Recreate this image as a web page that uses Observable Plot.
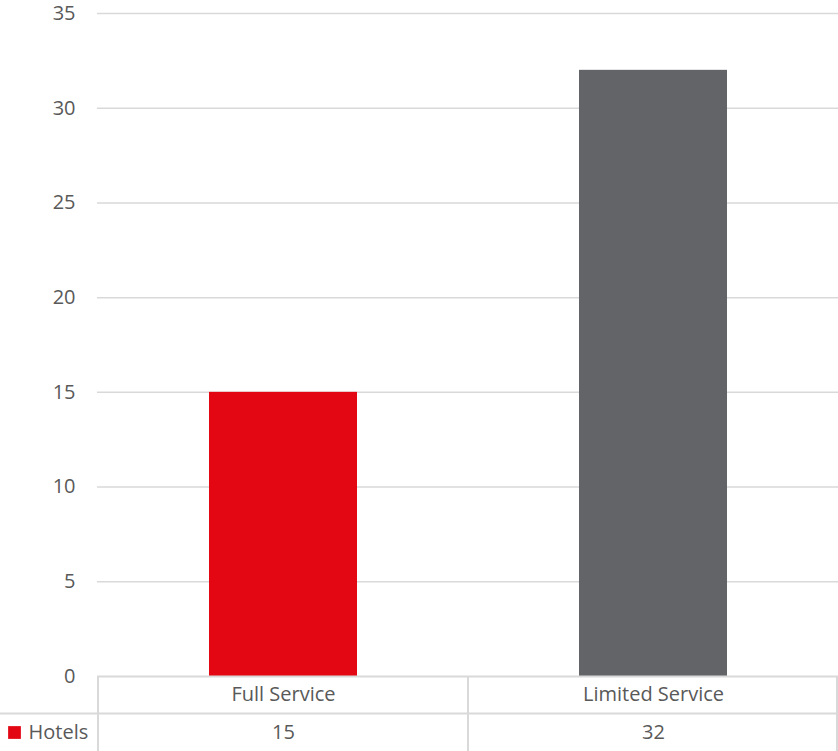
<!DOCTYPE html>
<html>
<head>
<meta charset="utf-8">
<script src="https://cdn.jsdelivr.net/npm/d3@7"></script>
<script src="https://cdn.jsdelivr.net/npm/@observablehq/plot@0.6"></script>
<style>
  html, body { margin: 0; padding: 0; background: #fff; }
  #chart svg { display: block; }
</style>
</head>
<body>
<div id="chart"></div>
<script>
const categories = ["Full Service", "Limited Service"];
const values = [15, 32];
const barColors = ["#E30613", "#636467"];
const seriesName = "Hotels";
const yTicks = [0, 5, 10, 15, 20, 25, 30, 35];

const data = categories.map((c, i) => ({category: c, value: values[i]}));
const gridColor = "#d9d9d9";
const textColor = "#595959";

const plot = Plot.plot({
  width: 838,
  height: 751,
  marginTop: 13,
  marginBottom: 75,
  marginLeft: 97,
  marginRight: 0,
  style: {fontFamily: "'Open Sans', sans-serif", fontSize: "20px", color: textColor, background: "#fff"},
  x: {domain: categories, paddingInner: 0.6, paddingOuter: 0.3, axis: null},
  y: {domain: [0, 35], axis: null},
  color: {domain: categories, range: barColors},
  marks: [
    Plot.ruleY(yTicks.filter(t => t > 0), {stroke: gridColor, strokeWidth: 1.5}),
    Plot.barY(data, {x: "category", y: "value", fill: "category"}),
    Plot.text(yTicks, {y: d => d, frameAnchor: "left", dx: -22, textAnchor: "end", lineAnchor: "middle", fill: textColor}),
    // table borders (horizontal)
    Plot.ruleY([0], {stroke: gridColor, strokeWidth: 2}),
    Plot.ruleY([0], {stroke: gridColor, strokeWidth: 2, dy: 37, insetLeft: -97}),
    // table text
    Plot.text(categories, {x: d => d, frameAnchor: "bottom", lineAnchor: "middle", dy: 18, fill: textColor}),
    Plot.text(data, {x: "category", text: d => String(d.value), frameAnchor: "bottom", lineAnchor: "middle", dy: 56, fill: textColor}),
    Plot.text([seriesName], {frameAnchor: "bottom-left", lineAnchor: "middle", dx: -69, dy: 56, textAnchor: "start", fill: textColor}),
    Plot.dot([seriesName], {frameAnchor: "bottom-left", dx: -83, dy: 56, symbol: "square", r: 7.2, fill: barColors[0], stroke: "none"})
  ]
});

// vertical table borders from the x band scale
const xs = plot.scale("x");
const step = xs.step;
const bounds = [];
categories.forEach((c, i) => {
  const center = xs.apply(c) + xs.bandwidth / 2;
  if (i === 0) bounds.push(center - step / 2);
  bounds.push(center + step / 2);
});
const svg = d3.select(plot.tagName.toLowerCase() === "svg" ? plot : plot.querySelector("svg"));
const y0 = 751 - 75;
svg.append("g")
  .selectAll("line")
  .data(bounds)
  .join("line")
  .attr("x1", d => Math.min(Math.max(d, 1), 837))
  .attr("x2", d => Math.min(Math.max(d, 1), 837))
  .attr("y1", y0)
  .attr("y2", 751)
  .attr("stroke", gridColor)
  .attr("stroke-width", 2);

document.getElementById("chart").appendChild(plot);
</script>
</body>
</html>
